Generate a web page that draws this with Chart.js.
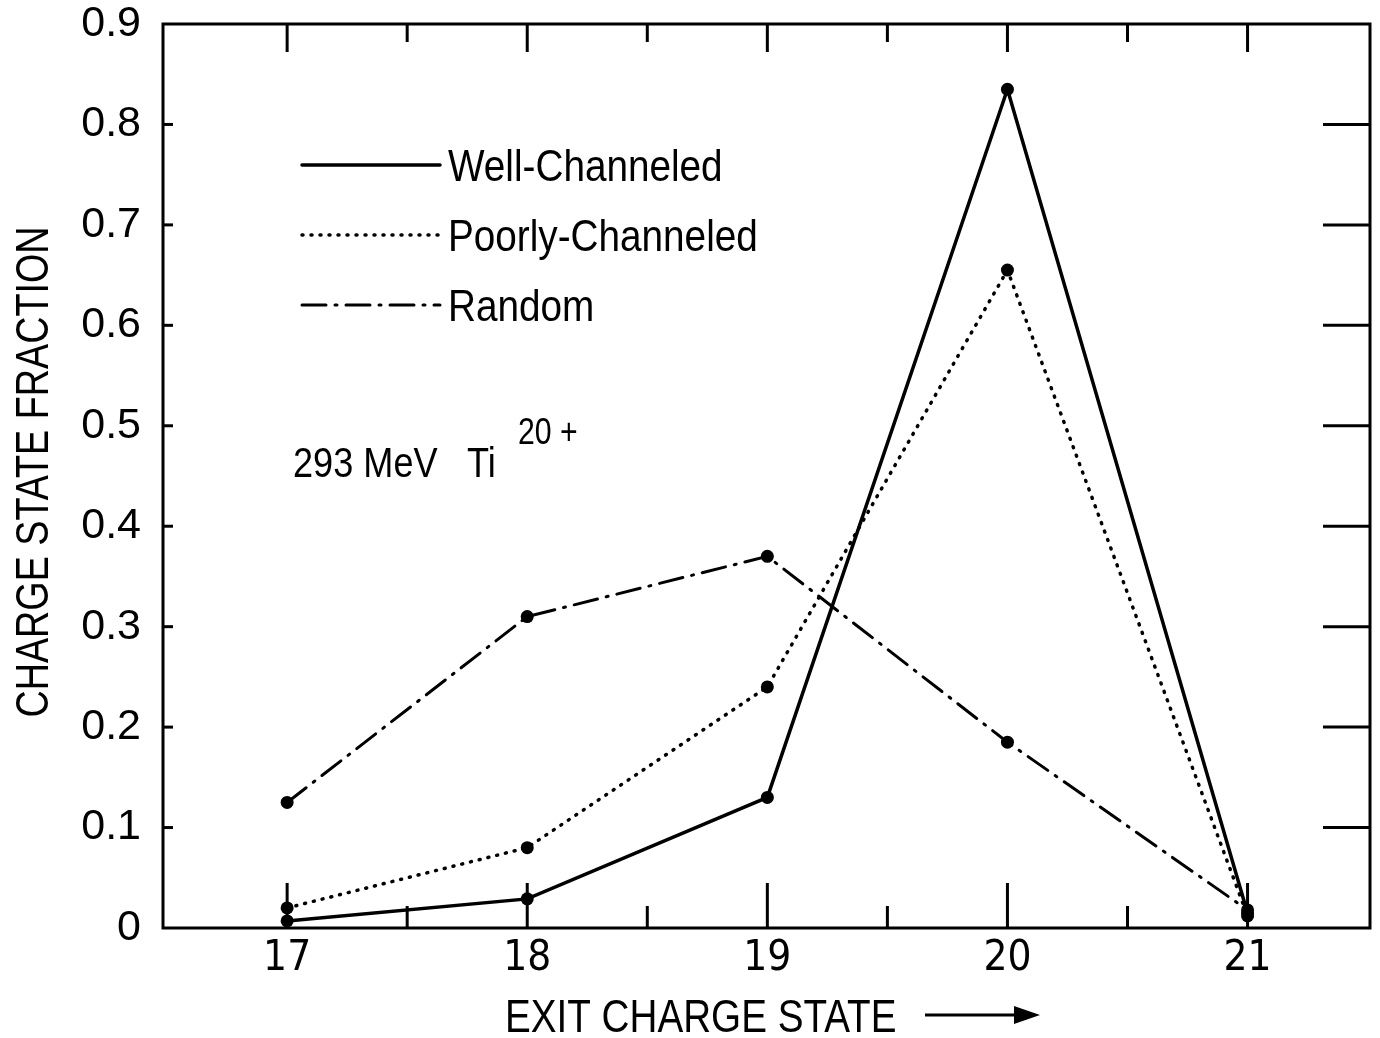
<!DOCTYPE html>
<html>
<head>
<meta charset="utf-8">
<script src="https://cdn.jsdelivr.net/npm/chart.js@4.4.1/dist/chart.umd.min.js"></script>
<style>
  html, body { margin: 0; padding: 0; background: #fff; }
  canvas { display: block; }
</style>
</head>
<body>
<canvas id="lineChart" width="1380" height="1038"></canvas>
<script>
const chargeStates = [17, 18, 19, 20, 21];
const wellChanneled = [0.007, 0.029, 0.13, 0.835, 0.015];
const poorlyChanneled = [0.02, 0.08, 0.24, 0.655, 0.012];
const randomDir = [0.125, 0.31, 0.37, 0.185, 0.018];
const yTicks = [0, 0.1, 0.2, 0.3, 0.4, 0.5, 0.6, 0.7, 0.8, 0.9];
const xMinor = [17.5, 18.5, 19.5, 20.5];

const CONDENSED = "'DejaVu Sans Condensed', 'Liberation Sans', sans-serif";
const SANS = "'Liberation Sans', Arial, sans-serif";

function toPoints(values) {
  return chargeStates.map((x, i) => ({ x: x, y: values[i] }));
}

function series(label, values, dash, width) {
  return {
    label: label,
    data: toPoints(values),
    borderColor: '#000',
    borderWidth: width,
    borderDash: dash,
    borderCapStyle: 'round',
    backgroundColor: '#000',
    pointBackgroundColor: '#000',
    pointBorderColor: '#000',
    pointRadius: 6.5,
    pointBorderWidth: 0,
    tension: 0,
  };
}

// squeezed Helvetica-ish text
function narrowText(ctx, text, x, y, size, align, squeeze) {
  ctx.save();
  ctx.translate(x, y);
  ctx.scale(squeeze || 0.84, 1);
  ctx.font = size + 'px ' + SANS;
  ctx.textAlign = align || 'left';
  ctx.fillText(text, 0, 0);
  ctx.restore();
}

// box, inward tick marks
const frame = {
  id: 'frame',
  afterDatasetsDraw(chart) {
    const { ctx, chartArea: a, scales: { x, y } } = chart;
    ctx.save();
    ctx.strokeStyle = '#000';
    ctx.lineWidth = 3;
    ctx.lineCap = 'butt';
    ctx.strokeRect(a.left, a.top, a.right - a.left, a.bottom - a.top);

    const tick = (x1, y1, x2, y2) => {
      ctx.beginPath();
      ctx.moveTo(x1, y1);
      ctx.lineTo(x2, y2);
      ctx.stroke();
    };
    chargeStates.forEach(v => {
      const px = x.getPixelForValue(v);
      tick(px, a.top, px, a.top + 28);
      tick(px, a.bottom, px, a.bottom - 45);
    });
    xMinor.forEach(v => {
      const px = x.getPixelForValue(v);
      tick(px, a.top, px, a.top + 18);
      tick(px, a.bottom, px, a.bottom - 22);
    });
    yTicks.slice(1, -1).forEach(v => {
      const py = y.getPixelForValue(v);
      tick(a.left, py, a.left + 10, py);
      tick(a.right, py, a.right - 47, py);
    });
    ctx.restore();
  }
};

// axis titles, legend and beam label
const labels = {
  id: 'labels',
  afterDraw(chart) {
    const { ctx, chartArea: a } = chart;
    ctx.save();
    ctx.fillStyle = '#000';
    ctx.strokeStyle = '#000';
    ctx.textBaseline = 'alphabetic';

    // y title
    ctx.save();
    ctx.translate(48, (a.top + a.bottom) / 2 - 4);
    ctx.rotate(-Math.PI / 2);
    narrowText(ctx, 'CHARGE STATE FRACTION', 0, 0, 46, 'center', 0.82);
    ctx.restore();

    // x title + arrow
    narrowText(ctx, 'EXIT CHARGE STATE', 505, 1032, 46);
    ctx.lineWidth = 3;
    ctx.beginPath();
    ctx.moveTo(925, 1015);
    ctx.lineTo(1018, 1015);
    ctx.stroke();
    ctx.beginPath();
    ctx.moveTo(1040, 1015);
    ctx.lineTo(1014, 1006);
    ctx.lineTo(1014, 1024);
    ctx.closePath();
    ctx.fill();

    // legend
    const rows = [165, 235, 305];
    chart.data.datasets.forEach((ds, i) => {
      const yy = rows[i];
      ctx.save();
      ctx.lineWidth = ds.borderWidth;
      ctx.lineCap = 'round';
      ctx.setLineDash(ds.borderDash);
      ctx.beginPath();
      ctx.moveTo(302, yy);
      ctx.lineTo(440, yy);
      ctx.stroke();
      ctx.restore();
      narrowText(ctx, ds.label, 448, yy + 16, 45, 'left', 0.86);
    });

    // beam
    narrowText(ctx, '293 MeV', 293, 477, 43);
    narrowText(ctx, 'Ti', 467, 477, 43);
    narrowText(ctx, '20 +', 518, 444, 36);
    ctx.restore();
  }
};

new Chart(document.getElementById('lineChart'), {
  type: 'line',
  data: {
    datasets: [
      series('Well-Channeled', wellChanneled, [], 3.5),
      series('Poorly-Channeled', poorlyChanneled, [1, 8], 3.5),
      series('Random', randomDir, [24, 9, 2, 9], 3),
    ]
  },
  options: {
    responsive: false,
    animation: false,
    layout: { padding: { top: 24, right: 10, left: 0, bottom: 0 } },
    scales: {
      x: {
        type: 'linear',
        min: 16.483,
        max: 21.51,
        afterBuildTicks: s => { s.ticks = chargeStates.map(v => ({ value: v })); },
        afterFit: s => { s.height = 110; },
        grid: { display: false, drawTicks: false },
        border: { display: false },
        ticks: {
          color: '#000',
          font: { family: CONDENSED, size: 42 },
          padding: 6,
          callback: v => String(v),
        }
      },
      y: {
        min: 0,
        max: 0.9,
        afterBuildTicks: s => { s.ticks = yTicks.map(v => ({ value: v })); },
        afterFit: s => {
          s.width = 163;
          s.paddingTop = 0;
          s.paddingBottom = 0;
        },
        grid: { display: false, drawTicks: false },
        border: { display: false },
        ticks: {
          color: '#000',
          font: { family: SANS, size: 43 },
          padding: 22,
          callback: v => v === 0 ? '0' : v.toFixed(1),
        }
      }
    },
    plugins: {
      legend: { display: false },
      tooltip: { enabled: false },
    }
  },
  plugins: [frame, labels]
});
</script>
</body>
</html>
